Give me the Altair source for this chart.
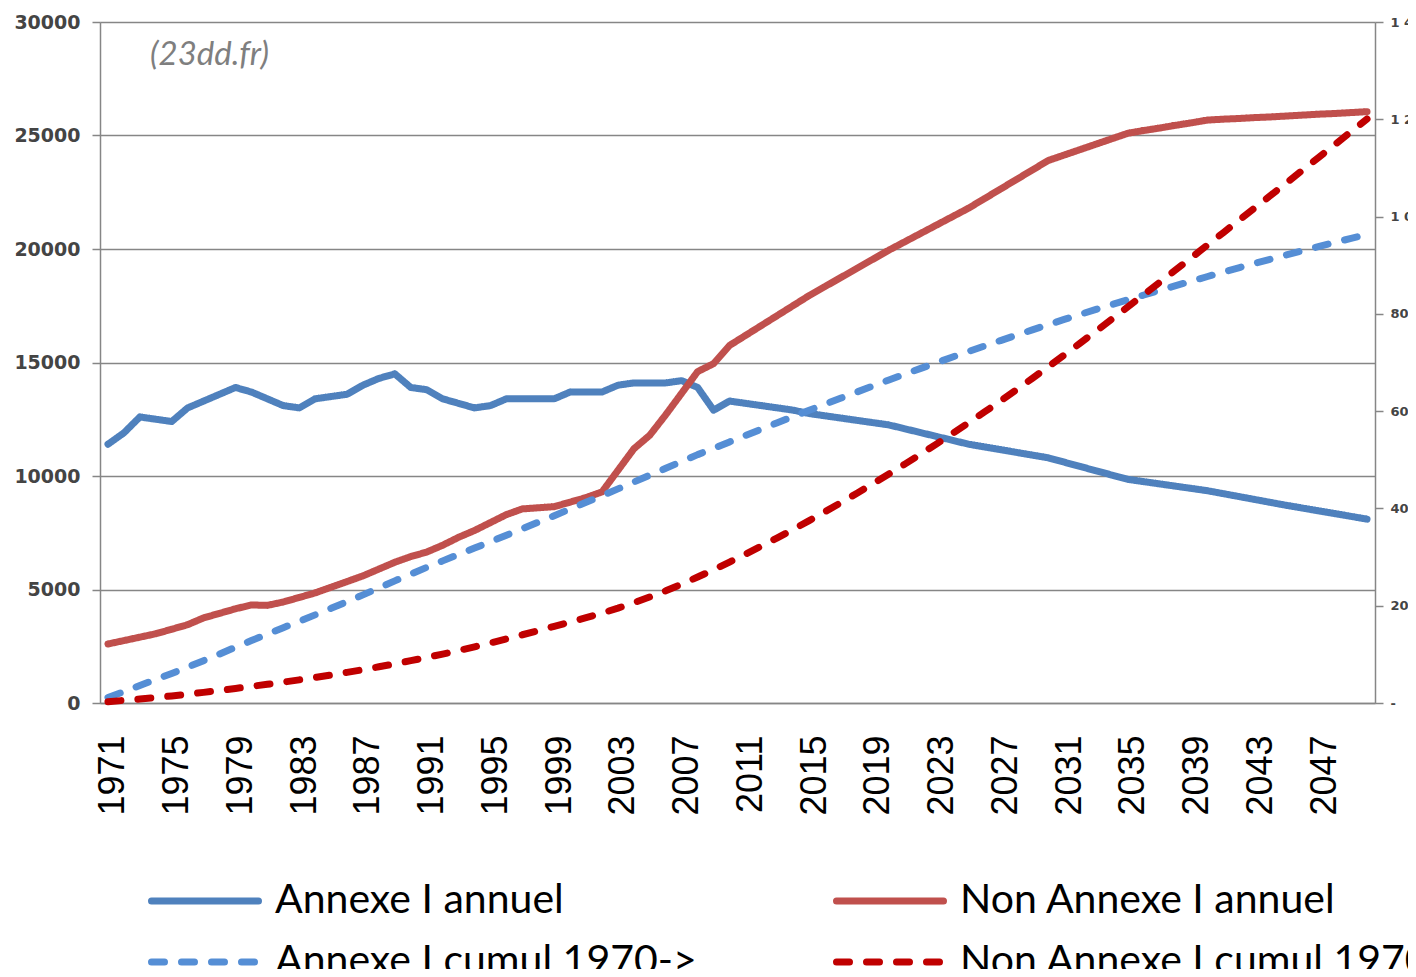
import altair as alt
import pandas as pd

years = list(range(1971, 2051))

annexe_annuel = [
    11400, 11900, 12600, 12500, 12400, 13000, 13300, 13600, 13900, 13700,
    13400, 13100, 13000, 13400, 13500, 13600, 14000, 14300, 14500, 13900,
    13800, 13400, 13200, 13000, 13100, 13400, 13400, 13400, 13400, 13700,
    13700, 13700, 14000, 14100, 14100, 14100, 14200, 13900, 12900, 13300,
    13200, 13100, 13000, 12900, 12750, 12650, 12550, 12450, 12350, 12250,
    12080, 11910, 11740, 11570, 11400, 11280, 11160, 11040, 10920, 10800,
    10610, 10420, 10230, 10040, 9850, 9750, 9650, 9550, 9450, 9350,
    9220, 9090, 8960, 8830, 8700, 8580, 8460, 8340, 8220, 8100]

non_annexe_annuel = [
    2600, 2750, 2900, 3050, 3250, 3450, 3750, 3950, 4150, 4320,
    4300, 4450, 4650, 4850, 5100, 5350, 5600, 5900, 6200, 6450,
    6650, 6950, 7300, 7600, 7950, 8300, 8550, 8600, 8650, 8850,
    9050, 9300, 10250, 11200, 11800, 12700, 13650, 14600, 14950, 15750,
    16190, 16630, 17070, 17510, 17950, 18350, 18750, 19150, 19550, 19950,
    20320, 20690, 21060, 21430, 21800, 22220, 22640, 23060, 23480, 23900,
    24140, 24380, 24620, 24860, 25100, 25220, 25330, 25450, 25560, 25680,
    25720, 25750, 25790, 25820, 25860, 25900, 25940, 25970, 26010, 26050]

annexe_cumul = [
    11400, 23300, 35900, 48400, 60800, 73800, 87100, 100700, 114600, 128300,
    141700, 154800, 167800, 181200, 194700, 208300, 222300, 236600, 251100, 265000,
    278800, 292200, 305400, 318400, 331500, 344900, 358300, 371700, 385100, 398800,
    412500, 426200, 440200, 454300, 468400, 482500, 496700, 510600, 523500, 536800,
    550000, 563100, 576100, 589000, 601800, 614400, 627000, 639400, 651800, 664000,
    676100, 688000, 699700, 711300, 722700, 734000, 745100, 756200, 767100, 777900,
    788500, 798900, 809200, 819200, 829100, 838800, 848500, 858000, 867500, 876800,
    886000, 895100, 904100, 912900, 921600, 930200, 938600, 947000, 955200, 963300]

non_annexe_cumul = [
    2600, 5400, 8300, 11300, 14600, 18000, 21800, 25700, 29900, 34200,
    38500, 42900, 47600, 52400, 57500, 62900, 68500, 74400, 80600, 87000,
    93700, 100600, 107900, 115500, 123500, 131800, 140300, 148900, 157600, 166400,
    175500, 184800, 195000, 206200, 218000, 230700, 244400, 259000, 273900, 289700,
    305900, 322500, 339600, 357100, 375000, 393400, 412100, 431300, 450800, 470800,
    491100, 511800, 532800, 554300, 576100, 598300, 620900, 644000, 667500, 691400,
    715500, 739900, 764500, 789400, 814500, 839700, 865000, 890500, 916000, 941700,
    967400, 993200, 1019000, 1044800, 1070700, 1096600, 1122500, 1148500, 1174500, 1200500]

series_names = ["Annexe I annuel", "Non Annexe I annuel",
                "Annexe I cumul 1970->", "Non Annexe I cumul 1970->"]
series_colors = ["#4F81BD", "#C0504D", "#558ED5", "#C00000"]
series_dashes = [[1, 0], [1, 0], [13, 17], [13, 17]]

left_ticks = [0, 5000, 10000, 15000, 20000, 25000, 30000]
right_ticks = [0, 200000, 400000, 600000, 800000, 1000000, 1200000, 1400000]
year_ticks = list(range(1971, 2050, 4))

annual = pd.DataFrame({
    "year": years * 2,
    "series": [series_names[0]] * 80 + [series_names[1]] * 80,
    "value": annexe_annuel + non_annexe_annuel,
})
cumul = pd.DataFrame({
    "year": years * 2,
    "series": [series_names[2]] * 80 + [series_names[3]] * 80,
    "value": annexe_cumul + non_annexe_cumul,
})

GRAY = "#868686"

x_enc = alt.X("year:O", scale=alt.Scale(type="point", padding=0.5),
              axis=alt.Axis(values=year_ticks, labelAngle=270, ticks=False,
                            domainColor=GRAY, domainWidth=1.5,
                            labelFont="Liberation Sans", labelFontSize=36,
                            labelColor="#000000", labelPadding=32, labelOffset=5,
                            labelOverlap=False, title=None))

color_enc = alt.Color("series:N", scale=alt.Scale(domain=series_names, range=series_colors),
                      legend=None)
dash_enc = alt.StrokeDash("series:N", scale=alt.Scale(domain=series_names, range=series_dashes),
                          legend=None)

line_kw = dict(strokeWidth=7, strokeCap="round", strokeJoin="round")

left = alt.Chart(annual).mark_line(**line_kw).encode(
    x=x_enc,
    y=alt.Y("value:Q", scale=alt.Scale(domain=[0, 30000], nice=False),
            axis=alt.Axis(values=left_ticks, format="d", grid=True, gridColor=GRAY,
                          gridWidth=1.5, domainColor=GRAY, domainWidth=1.5, tickColor=GRAY,
                          tickWidth=1.5, tickSize=8, labelFont="DejaVu Sans",
                          labelFontSize=19, labelFontWeight="bold", labelColor="#444444",
                          labelPadding=12, title=None)),
    color=color_enc,
    strokeDash=dash_enc,
    order="year:O",
)

right = alt.Chart(cumul).mark_line(**line_kw).encode(
    x=x_enc,
    y=alt.Y("value:Q", scale=alt.Scale(domain=[0, 1400000], nice=False),
            axis=alt.Axis(orient="right", values=right_ticks, grid=False,
                          domainColor=GRAY, domainWidth=1.5, tickColor=GRAY,
                          tickWidth=1.5, tickSize=8, labelFont="DejaVu Sans",
                          labelFontSize=13, labelFontWeight="bold", labelColor="#444444",
                          labelPadding=7, labelAlign="left",
                          labelExpr="datum.value == 0 ? '-' : replace(replace(format(datum.value, ','), ',', ' '), ',', ' ')",
                          title=None)),
    color=color_enc,
    strokeDash=dash_enc,
    order="year:O",
)

mark_src = alt.Chart(pd.DataFrame({"t": ["(23dd.fr)"]})).mark_text(
    font="Lato", fontStyle="italic", fontSize=33, color="#7f7f7f", align="left",
    baseline="middle"
).encode(x=alt.value(50), y=alt.value(33), text="t:N")

# manual legend (2 columns x 2 rows, as in the original)
legend_cols = [51.5, 736.5]
legend_rows = [879, 940]
legend_layers = []
for i, name in enumerate(series_names):
    cx = legend_cols[i % 2]
    cy = legend_rows[i // 2]
    src = pd.DataFrame({"series": [name]})
    legend_layers.append(
        alt.Chart(src).mark_rule(strokeWidth=7, strokeCap="round",
                                 strokeDash=series_dashes[i], color=series_colors[i]).encode(
            x=alt.value(cx), x2=alt.value(cx + 107), y=alt.value(cy))
    )
    legend_layers.append(
        alt.Chart(src).mark_text(font="Lato", fontSize=41, color="#000000", align="left",
                                 baseline="middle").encode(
            x=alt.value(cx + 123.5), y=alt.value(cy), text="series:N")
    )

chart = alt.layer(left, right, mark_src, *legend_layers).resolve_scale(y="independent").properties(
    width=1275, height=681,
    autosize=alt.AutoSizeParams(type="none"),
    padding={"left": 92, "top": 14, "right": 33, "bottom": 266},
).configure_view(stroke=None).configure(background="white")

chart.save("out.html", embed_options={"renderer": "svg", "actions": False})
